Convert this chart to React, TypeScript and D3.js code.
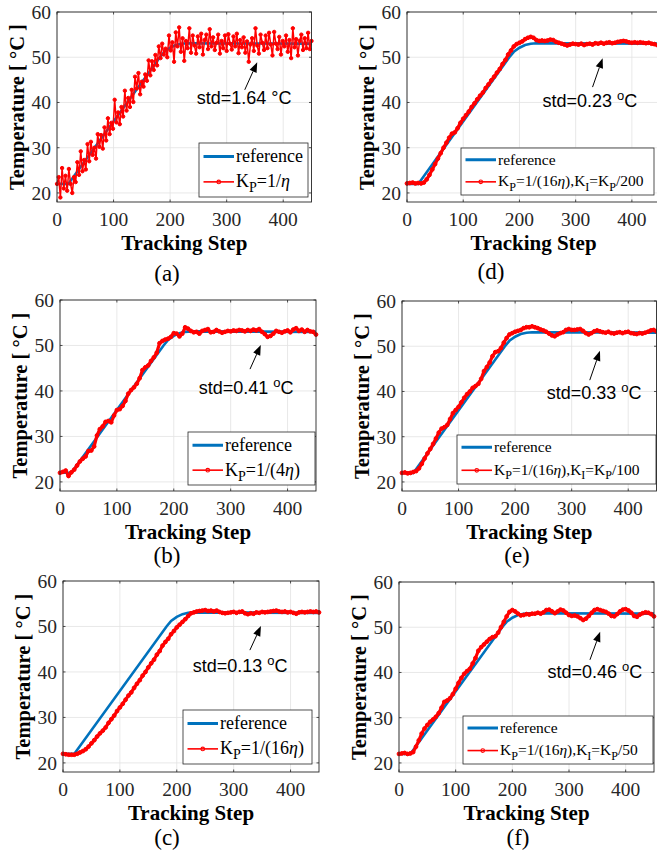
import React from 'react';
import * as d3 from 'd3';

const W = 657;
const H = 856;
const SERIF = '"Liberation Serif", "Times New Roman", serif';
const SANS = '"Liberation Sans", Arial, sans-serif';
const BLUE = '#0072BD';
const RED = '#FF0000';
const AXIS = '#262626';

// reference trajectory (breakpoints)
const refSteps = [0, 20, 182, 190, 200, 210, 220, 230, 450];
const refTemps = [22, 22, 50, 51.2, 52.1, 52.7, 53.0, 53.1, 53.0];

const stepsBy3 = d3.range(0, 451, 3);
const stepsBy5 = d3.range(0, 451, 5);

// (a) KP = 1/eta, sampled every 3 steps
const tempsA = [
  22.0, 23.5, 19.0, 25.5, 21.0, 23.8, 20.5, 25.3, 22.0, 20.0,
  23.5, 22.4, 26.8, 24.0, 29.2, 24.8, 27.3, 25.2, 30.8, 27.0,
  31.3, 28.4, 30.0, 27.6, 33.0, 30.2, 32.8, 29.8, 34.5, 31.6,
  36.5, 33.0, 35.5, 34.2, 40.6, 35.6, 37.8, 35.2, 39.0, 36.9,
  42.6, 38.2, 41.0, 39.0, 42.8, 40.1, 45.7, 43.1, 46.5, 41.8,
  44.6, 43.5, 46.2, 44.8, 49.3, 46.0, 49.1, 47.2, 50.5, 48.2,
  52.4, 49.8, 53.0, 50.6, 51.9, 50.0, 54.8, 51.5, 53.3, 49.0,
  55.5, 52.4, 56.6, 51.2, 54.2, 49.2, 53.6, 52.0, 56.4, 51.0,
  54.8, 52.6, 50.8, 54.6, 52.2, 55.2, 50.6, 53.8, 55.0, 51.8,
  56.2, 52.4, 54.4, 51.6, 53.2, 55.0, 50.8, 53.6, 52.0, 54.8,
  51.4, 55.1, 53.0, 51.7, 54.6, 52.4, 55.2, 50.9, 53.8, 52.2,
  54.4, 51.0, 53.5, 49.0, 52.8, 54.2, 51.4, 56.4, 52.6, 50.8,
  55.0, 53.2, 51.6, 54.8, 52.0, 55.4, 52.8, 50.4, 55.6, 53.0,
  51.8, 54.5, 50.6, 53.6, 52.4, 54.8, 51.2, 53.8, 49.8, 56.4,
  52.2, 54.0, 50.4, 53.6, 55.0, 51.6, 54.2, 52.0, 55.4, 51.8,
  53.6,
];

// (b) KP = 1/(4 eta), every 5 steps
const tempsB = [
  22.0, 22.2, 22.5, 21.3, 22.1, 22.7, 23.6, 24.5, 25.1, 25.6,
  26.8, 26.9, 27.8, 30.2, 31.6, 32.2, 33.2, 33.4, 33.1, 34.6,
  35.8, 36.0, 36.7, 37.8, 39.4, 40.2, 40.8, 41.6, 42.8, 44.6,
  45.2, 45.6, 46.6, 47.4, 48.4, 50.5, 51.0, 51.3, 51.5, 51.9,
  52.7, 52.6, 52.0, 52.6, 54.0, 53.7, 53.2, 52.9, 53.0, 52.6,
  53.2, 53.4, 53.6, 52.9, 53.0, 53.4, 53.1, 52.8, 53.0, 53.2,
  53.1, 53.3, 53.2, 53.4, 53.3, 53.1, 53.4, 53.2, 53.5, 53.3,
  53.6, 53.0, 52.5, 51.9, 52.1, 52.6, 53.2, 53.0, 52.8, 53.1,
  53.3, 52.9, 53.5, 53.8, 53.2, 53.5, 53.0, 53.4, 53.1, 53.0,
  52.4,
];

// (c) KP = 1/(16 eta)
const tempsC = [
  22.0, 21.9, 21.8, 21.8, 21.8, 22.0, 22.3, 22.6, 23.0, 23.6,
  24.3, 25.0, 25.8, 26.5, 27.1, 27.8, 28.8, 29.6, 30.4, 31.4,
  32.2, 33.0, 33.9, 34.8, 35.5, 36.5, 37.4, 38.2, 39.2, 40.0,
  41.0, 41.9, 42.7, 43.8, 44.6, 45.8, 46.6, 47.3, 48.3, 49.0,
  49.8, 50.4, 51.0, 51.6, 52.3, 52.9, 53.1, 53.3, 53.4, 53.5,
  53.6, 53.4, 53.5, 53.3, 53.5, 53.2, 53.0, 52.9, 53.0, 53.1,
  53.2, 53.0, 53.2, 53.3, 52.9, 52.7, 52.9, 52.8, 53.1, 53.0,
  53.2, 53.1, 53.2, 53.3, 53.4, 53.5, 53.3, 53.2, 53.3, 53.1,
  53.2, 53.0, 52.8, 53.1, 53.2, 53.1, 53.2, 53.3, 53.2, 53.3,
  53.1,
];

// (d) KP = 1/(16 eta), KI = KP/200
const tempsD = [
  22.1, 22.2, 22.3, 22.1, 22.2, 22.1, 22.3, 23.0, 24.0, 25.2,
  26.4, 27.6, 28.8, 30.0, 31.1, 32.2, 33.1, 33.4, 34.3, 35.5,
  36.4, 37.2, 38.0, 39.0, 39.8, 40.7, 41.5, 42.2, 43.2, 44.0,
  44.9, 45.7, 46.6, 47.4, 48.5, 49.4, 50.6, 51.5, 52.4, 52.9,
  53.2, 53.5, 54.0, 54.3, 54.5, 54.3, 53.8, 53.6, 53.7, 53.6,
  53.7, 53.9, 53.8, 53.4, 53.2, 53.0, 52.8, 52.6, 52.8, 53.0,
  52.9, 52.8, 53.0, 52.7, 52.9, 53.0, 52.8, 53.1, 53.0, 53.2,
  53.0, 53.2, 53.3, 53.1, 53.2, 53.4, 53.5, 53.6, 53.5, 53.3,
  53.2, 53.3, 53.2, 53.3, 53.2, 53.1, 53.2, 53.0, 52.9, 52.7,
  52.6,
];

// (e) KP = 1/(16 eta), KI = KP/100
const tempsE = [
  22.0, 22.1, 21.9, 22.0, 22.2, 22.4, 23.0, 24.0, 25.2, 26.3,
  27.3, 28.4, 29.6, 30.9, 31.8, 32.1, 32.6, 33.9, 35.2, 35.9,
  36.6, 37.6, 38.6, 39.4, 40.0, 40.8, 41.2, 41.7, 42.8, 44.5,
  45.4, 46.4, 47.8, 48.7, 48.9, 49.6, 50.8, 51.8, 52.6, 52.9,
  53.2, 53.4, 53.6, 54.0, 54.2, 54.2, 54.4, 54.2, 54.0, 53.7,
  53.5, 53.2, 52.8, 52.4, 52.2, 52.6, 52.9, 53.1, 53.6, 53.8,
  53.6, 53.6, 53.7, 53.8, 53.4, 52.9, 52.6, 52.9, 53.3, 53.5,
  53.3, 53.1, 53.0, 53.2, 52.9, 52.8, 53.0, 53.1, 52.9, 53.1,
  53.2, 52.9, 52.8, 52.7, 52.9, 52.8, 53.0, 53.2, 53.5, 53.6,
  53.3,
];

// (f) KP = 1/(16 eta), KI = KP/50
const tempsF = [
  22.0, 22.1, 22.2, 22.0, 22.1, 22.4, 23.6, 25.0, 26.5, 27.6,
  28.4, 29.1, 29.6, 30.2, 31.0, 32.2, 33.5, 33.8, 34.3, 35.2,
  36.4, 37.7, 38.8, 39.7, 40.3, 40.8, 42.0, 43.2, 44.8, 45.6,
  46.2, 46.8, 47.4, 47.8, 48.0, 48.8, 50.0, 51.2, 52.4, 53.4,
  53.8, 53.5, 53.0, 52.6, 52.7, 52.9, 52.8, 53.0, 53.0, 53.2,
  53.0, 53.3, 53.8, 53.9, 53.5, 53.1, 53.5, 53.9, 53.7, 53.2,
  52.7, 52.5, 52.6, 52.4, 52.0, 51.6, 51.9, 52.5, 53.2, 53.8,
  54.0, 53.8, 53.6, 53.4, 53.0, 52.5, 52.4, 52.9, 53.5, 53.9,
  54.0, 53.7, 53.2, 52.5, 52.3, 52.8, 53.1, 53.3, 53.2, 52.9,
  52.4,
];

const xTicks = [0, 100, 200, 300, 400];
const yTicks = [20, 30, 40, 50, 60];

type Seg = { t: string; sub?: boolean; it?: boolean };
const kp = (rest: Seg[]): Seg[] => [{ t: 'K' }, { t: 'P', sub: true }, ...rest];
const eta: Seg = { t: 'η', it: true };
const kiTail = (d: string): Seg[] => [
  { t: '),K' }, { t: 'I', sub: true }, { t: '=K' }, { t: 'P', sub: true }, { t: '/' + d },
];

const panels = [
  {
    caption: '(a)', capX: 167, capY: 281, box: { l: 57, t: 12, r: 311.5, b: 202 },
    steps: stepsBy3, temps: tempsA, noisy: true,
    legend: { x: 199, y: 143, w: 109, h: 54, fs: 18 },
    label: kp([{ t: '=1/' }, eta]),
    std: 'std=1.64 °C', sup: false,
    ann: { tip: [354, 48.9], tail: [332, 42.8], text: [247, 39.7] },
  },
  {
    caption: '(b)', capX: 167, capY: 563, box: { l: 60, t: 300, r: 316, b: 491 },
    steps: stepsBy5, temps: tempsB, noisy: false,
    legend: { x: 188, y: 432, w: 127, h: 53, fs: 18 },
    label: kp([{ t: '=1/(4' }, eta, { t: ')' }]),
    std: 'std=0.41 ', sup: true,
    ann: { tip: [353, 50.1], tail: [334, 44.8], text: [244, 39.3] },
  },
  {
    caption: '(c)', capX: 167, capY: 845, box: { l: 63, t: 581, r: 319, b: 772 },
    steps: stepsBy5, temps: tempsC, noisy: false,
    legend: { x: 183, y: 710, w: 129, h: 54, fs: 18 },
    label: kp([{ t: '=1/(16' }, eta, { t: ')' }]),
    std: 'std=0.13 ', sup: true,
    ann: { tip: [348, 50.1], tail: [328.5, 44.8], text: [228, 40] },
  },
  {
    caption: '(d)', capX: 491, capY: 279, box: { l: 407, t: 12, r: 660, b: 202 },
    steps: stepsBy5, temps: tempsD, noisy: false,
    legend: { x: 461, y: 148, w: 193, h: 47, fs: 15.5 },
    label: kp([{ t: '=1/(16' }, eta, ...kiTail('200')]),
    std: 'std=0.23 ', sup: true,
    ann: { tip: [348, 49.8], tail: [330, 43.4], text: [241, 39] },
  },
  {
    caption: '(e)', capX: 517, capY: 563, box: { l: 402, t: 301, r: 656.5, b: 491 },
    steps: stepsBy5, temps: tempsE, noisy: false,
    legend: { x: 457, y: 435, w: 199, h: 49, fs: 15.5 },
    label: kp([{ t: '=1/(16' }, eta, ...kiTail('100')]),
    std: 'std=0.33 ', sup: true,
    ann: { tip: [350, 49], tail: [332, 42.5], text: [256, 38.3] },
  },
  {
    caption: '(f)', capX: 518, capY: 845, box: { l: 399, t: 582, r: 654, b: 772 },
    steps: stepsBy5, temps: tempsF, noisy: false,
    legend: { x: 463, y: 716, w: 190, h: 48, fs: 15.5 },
    label: kp([{ t: '=1/(16' }, eta, ...kiTail('50')]),
    std: 'std=0.46 ', sup: true,
    ann: { tip: [355, 49], tail: [337, 42.8], text: [262, 38.8] },
  },
];

function RichText({ segs, fs, x, y }: { segs: Seg[]; fs: number; x: number; y: number }) {
  let shift = 0;
  const off = fs * 0.28;
  return (
    <text x={x} y={y} fontFamily={SERIF} fontSize={fs} fill="#000">
      {segs.map((s, i) => {
        const target = s.sub ? off : 0;
        const dy = target - shift;
        shift = target;
        return (
          <tspan key={i} dy={dy} fontSize={s.sub ? fs * 0.78 : fs} fontStyle={s.it ? 'italic' : 'normal'}>
            {s.t}
          </tspan>
        );
      })}
    </text>
  );
}

function Panel({ p }: { p: (typeof panels)[number] }) {
  const { box } = p;
  const x = d3.scaleLinear().domain([0, 450]).range([box.l, box.r]);
  const y = d3.scaleLinear().domain([18, 60]).range([box.b, box.t]);
  const refPath = d3.line<number>().x((_, i) => x(refSteps[i])).y((d) => y(d))(refTemps) || '';
  const redPath = d3.line<number>().x((_, i) => x(p.steps[i])).y((d) => y(d))(p.temps) || '';

  // annotation arrow
  const tip = [x(p.ann.tip[0]), y(p.ann.tip[1])];
  const tail = [x(p.ann.tail[0]), y(p.ann.tail[1])];
  const len = Math.hypot(tip[0] - tail[0], tip[1] - tail[1]);
  const ux = (tip[0] - tail[0]) / len;
  const uy = (tip[1] - tail[1]) / len;
  const hl = 10, hw = 3.8;
  const bx = tip[0] - ux * hl, by = tip[1] - uy * hl;
  const head = `${tip[0]},${tip[1]} ${bx - uy * hw},${by + ux * hw} ${bx + uy * hw},${by - ux * hw}`;

  const lg = p.legend;
  const row1 = lg.y + lg.h * 0.25;
  const row2 = lg.y + lg.h * 0.72;
  const sx0 = lg.x + 4.5, sx1 = lg.x + 35;
  const tk = 2.5;

  const redWidth = p.noisy ? 1.5 : 3.2;
  const markR = p.noisy ? 1.7 : 1.9;

  return (
    <g>
      {/* grid */}
      {xTicks.map((t) => (
        <line key={'gx' + t} x1={x(t)} x2={x(t)} y1={box.t} y2={box.b} stroke="#e2e2e2" strokeWidth={0.8} />
      ))}
      {yTicks.map((t) => (
        <line key={'gy' + t} x1={box.l} x2={box.r} y1={y(t)} y2={y(t)} stroke="#e2e2e2" strokeWidth={0.8} />
      ))}
      {/* ticks */}
      {xTicks.map((t) => (
        <g key={'tx' + t}>
          <line x1={x(t)} x2={x(t)} y1={box.b} y2={box.b - tk} stroke={AXIS} strokeWidth={0.8} />
          <line x1={x(t)} x2={x(t)} y1={box.t} y2={box.t + tk} stroke={AXIS} strokeWidth={0.8} />
          <text x={x(t)} y={box.b + 24} textAnchor="middle" fontFamily={SERIF} fontSize={19.5} fill={AXIS}>{t}</text>
        </g>
      ))}
      {yTicks.map((t) => (
        <g key={'ty' + t}>
          <line x1={box.l} x2={box.l + tk} y1={y(t)} y2={y(t)} stroke={AXIS} strokeWidth={0.8} />
          <line x1={box.r} x2={box.r - tk} y1={y(t)} y2={y(t)} stroke={AXIS} strokeWidth={0.8} />
          <text x={box.l - 6} y={y(t)} dy="0.35em" textAnchor="end" fontFamily={SERIF} fontSize={19.5} fill={AXIS}>{t}</text>
        </g>
      ))}
      {/* series */}
      <path d={refPath} fill="none" stroke={BLUE} strokeWidth={2.6} />
      <path d={redPath} fill="none" stroke={RED} strokeWidth={redWidth} strokeLinejoin="round" />
      {p.temps.map((v, i) => (
        <circle key={i} cx={x(p.steps[i])} cy={y(v)} r={markR} fill={RED} stroke={RED} strokeWidth={1} />
      ))}
      {/* box */}
      <rect x={box.l} y={box.t} width={box.r - box.l} height={box.b - box.t} fill="none" stroke={AXIS} strokeWidth={0.9} />
      {/* annotation */}
      <line x1={tail[0]} y1={tail[1]} x2={bx} y2={by} stroke="#000" strokeWidth={1} />
      <polygon points={head} fill="#000" />
      <text x={x(p.ann.text[0])} y={y(p.ann.text[1])} fontFamily={SANS} fontSize={18} fill="#000">
        {p.std}
        {p.sup && <tspan dy={-7} fontSize={13}>o</tspan>}
        {p.sup && <tspan dy={7}>C</tspan>}
      </text>
      {/* legend */}
      <rect x={lg.x} y={lg.y} width={lg.w} height={lg.h} fill="#fff" stroke={AXIS} strokeWidth={0.8} />
      <line x1={sx0} x2={sx1} y1={row1} y2={row1} stroke={BLUE} strokeWidth={3} />
      <text x={lg.x + 37} y={row1} dy="0.32em" fontFamily={SERIF} fontSize={lg.fs}>reference</text>
      <line x1={sx0} x2={sx1} y1={row2} y2={row2} stroke={RED} strokeWidth={1.6} />
      <circle cx={(sx0 + sx1) / 2} cy={row2} r={1.8} fill="none" stroke={RED} strokeWidth={1.1} />
      <RichText segs={p.label} fs={lg.fs} x={lg.x + 37} y={row2 + lg.fs * 0.3} />
      {/* labels */}
      <text x={(box.l + box.r) / 2} y={box.b + 48} textAnchor="middle" fontFamily={SERIF} fontWeight="bold" fontSize={21}>
        Tracking Step
      </text>
      <text
        transform={`translate(${box.l - 33},${(box.t + box.b) / 2}) rotate(-90)`}
        textAnchor="middle" fontFamily={SERIF} fontWeight="bold" fontSize={20.5}
      >
        Temperature [ °C ]
      </text>
      <text x={p.capX} y={p.capY} textAnchor="middle" fontFamily={SERIF} fontSize={23}>{p.caption}</text>
    </g>
  );
}

export default function App() {
  return (
    <svg width={W} height={H} style={{ position: 'absolute', left: 0, top: 0, background: '#fff' }}>
      <rect width={W} height={H} fill="#fff" />
      {panels.map((p) => (
        <Panel key={p.caption} p={p} />
      ))}
    </svg>
  );
}
